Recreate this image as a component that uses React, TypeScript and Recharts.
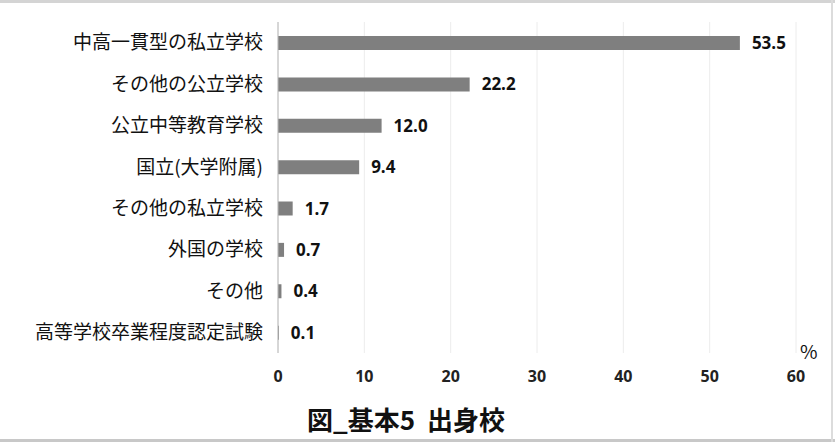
import React from "react";
import { BarChart, Bar, XAxis, YAxis, CartesianGrid, LabelList } from "recharts";

const categories = [
  "中高一貫型の私立学校",
  "その他の公立学校",
  "公立中等教育学校",
  "国立(大学附属)",
  "その他の私立学校",
  "外国の学校",
  "その他",
  "高等学校卒業程度認定試験",
];
const values = [53.5, 22.2, 12.0, 9.4, 1.7, 0.7, 0.4, 0.1];
const xTicks = [0, 10, 20, 30, 40, 50, 60];
const unitLabel = "%";
const title = "図_基本5  出身校";

const data = categories.map((name, i) => ({ name, value: values[i] }));

const W = 835;
const H = 444;

export default function App() {
  return (
    <div
      style={{
        position: "absolute",
        left: 0,
        top: 0,
        width: W,
        height: H,
        background: "#ffffff",
        overflow: "hidden",
      }}
    >
      <div style={{ position: "absolute", left: 0, top: 0, width: W, height: 3, background: "#d4d4d4" }} />
      <div style={{ position: "absolute", left: 0, top: 439, width: W, height: 3, background: "#c8c8c8" }} />
      <div style={{ position: "absolute", left: 831, top: 0, width: 2, height: 442, background: "#dcdcdc" }} />
      <BarChart
        width={W}
        height={H}
        data={data}
        layout="vertical"
        margin={{ top: 22, right: 39, bottom: 61, left: 0 }}
        barCategoryGap={0}
      >
        <CartesianGrid horizontal={false} vertical={true} stroke="#ececec" strokeWidth={1} />
        <XAxis
          type="number"
          domain={[0, 60]}
          ticks={xTicks}
          axisLine={false}
          tickLine={false}
          tickMargin={12}
          height={30}
          tick={{ fill: "#222", fontSize: 16, fontWeight: 700, fontFamily: "'Open Sans', sans-serif" }}
        />
        <YAxis
          type="category"
          dataKey="name"
          width={278}
          axisLine={{ stroke: "#b8b8b8", strokeWidth: 1 }}
          tickLine={false}
          tickMargin={9}
          interval={0}
          tick={{ fill: "#111", fontSize: 19, fontFamily: "'Noto Sans CJK JP', sans-serif" }}
        />
        <Bar dataKey="value" fill="#7f7f7f" barSize={14} isAnimationActive={false}>
          <LabelList
            dataKey="value"
            position="right"
            offset={12}
            formatter={(v: number) => v.toFixed(1)}
            style={{ fill: "#111", fontSize: 17, fontWeight: 700, fontFamily: "'Open Sans', sans-serif" }}
          />
        </Bar>
      </BarChart>
      <div
        style={{
          position: "absolute",
          left: 800,
          top: 340,
          fontSize: 19,
          fontFamily: "'Noto Sans CJK JP', sans-serif",
          color: "#111",
          lineHeight: "22px",
        }}
      >
        {unitLabel}
      </div>
      <div
        style={{
          position: "absolute",
          left: 0,
          width: 812,
          top: 402,
          textAlign: "center",
          fontSize: 26,
          fontWeight: 700,
          fontFamily: "'Noto Sans CJK JP', sans-serif",
          color: "#111",
          lineHeight: "34px",
          whiteSpace: "pre",
        }}
      >
        {title}
      </div>
    </div>
  );
}
